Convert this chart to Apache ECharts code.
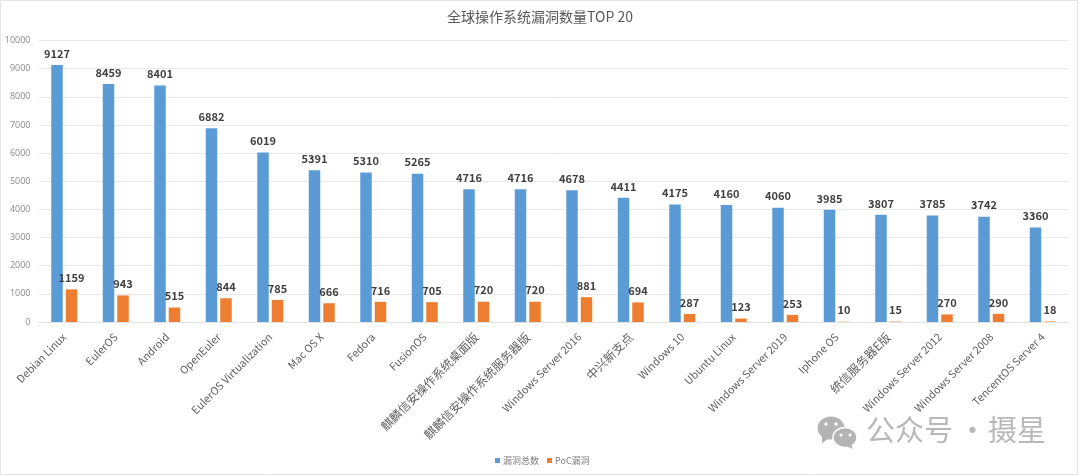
<!DOCTYPE html>
<html><head><meta charset="utf-8">
<style>html,body{margin:0;padding:0;background:#fff}#c{width:1080px;height:476px}</style>
<script src="https://cdn.jsdelivr.net/npm/echarts@6/dist/echarts.min.js"></script>
</head><body><div id="c"></div>
<script>
const categories = ["Debian Linux","EulerOS","Android","OpenEuler","EulerOS Virtualization","Mac OS X","Fedora","FusionOS","麒麟信安操作系统桌面版","麒麟信安操作系统服务器版","Windows Server 2016","中兴新支点","Windows 10","Ubuntu Linux","Windows Server 2019","Iphone OS","统信服务器E版","Windows Server 2012","Windows Server 2008","TencentOS Server 4"];
const totalVulns = [9127,8459,8401,6882,6019,5391,5310,5265,4716,4716,4678,4411,4175,4160,4060,3985,3807,3785,3742,3360];
const pocVulns = [1159,943,515,844,785,666,716,705,720,720,881,694,287,123,253,10,15,270,290,18];
const FONT = '"Noto Sans CJK SC","Open Sans",sans-serif';
const chart = echarts.init(document.getElementById('c'), null, {renderer:'canvas'});
const lbl = {show:true, position:'top', distance:6, fontFamily:FONT, fontSize:11, fontWeight:'bold', color:'#404040'};
chart.setOption({
  animation:false,
  backgroundColor:'#fff',
  title:{text:'全球操作系统漏洞数量TOP 20', left:'center', top:5, textStyle:{fontFamily:FONT, fontSize:14, fontWeight:'normal', color:'#595959'}},
  legend:{bottom:6, left:490, itemWidth:5, itemHeight:5, itemGap:8, icon:'rect', textStyle:{fontFamily:FONT, fontSize:9, color:'#7f7f7f', padding:[0,0,0,-2]}},
  grid:{left:38.5, right:11.5, top:40.5, bottom:154},
  xAxis:{type:'category', data:categories, axisTick:{show:false},
    axisLine:{lineStyle:{color:'#e2e2e2', width:1}},
    axisLabel:{rotate:45, interval:0, margin:13, fontFamily:FONT, fontSize:10.7, color:'#606060',
      formatter:function(v){ return /[\u4e00-\u9fff]/.test(v) ? '{cn|'+v+'}' : v; },
      rich:{cn:{fontFamily:FONT, fontSize:12, color:'#606060'}}}},
  yAxis:{type:'value', min:0, max:10000, interval:1000, axisLine:{show:false}, axisTick:{show:false},
    splitLine:{lineStyle:{color:'#e8e8e8', width:1}},
    axisLabel:{margin:8, fontFamily:'"Open Sans",sans-serif', fontSize:9, color:'#8a8a8a', formatter:function(v){return String(v);}}},
  series:[
    {name:'漏洞总数', type:'bar', data:totalVulns, barWidth:11.5, barGap:'26%', itemStyle:{color:'#5b9bd5'}, label:lbl},
    {name:'PoC漏洞', type:'bar', data:pocVulns, barWidth:11.5, itemStyle:{color:'#ed7d31'}, label:lbl}
  ],
  graphic:[
    {type:'rect', silent:true, z:-1, shape:{x:0.5,y:0.5,width:1077,height:474}, style:{fill:'none',stroke:'#e4e4e4',lineWidth:1}},
    {type:'group', silent:true, children:[
      {type:'ellipse', shape:{cx:831,cy:428,rx:13.5,ry:11.5}, style:{fill:'#b4b4b4'}},
      {type:'polygon', shape:{points:[[822,435],[822,443],[830,438]]}, style:{fill:'#b4b4b4'}},
      {type:'ellipse', shape:{cx:845,cy:437.5,rx:12,ry:10}, style:{fill:'#b4b4b4',stroke:'#fff',lineWidth:1.5}},
      {type:'polygon', shape:{points:[[851,444],[853,449],[846,446]]}, style:{fill:'#b4b4b4'}},
      {type:'circle', shape:{cx:826,cy:424,r:1.7}, style:{fill:'#fff'}},
      {type:'circle', shape:{cx:836,cy:424,r:1.7}, style:{fill:'#fff'}},
      {type:'circle', shape:{cx:841,cy:435,r:1.5}, style:{fill:'#fff'}},
      {type:'circle', shape:{cx:850,cy:435,r:1.5}, style:{fill:'#fff'}}
    ]},
    {type:'text', silent:true, left:866, top:415, style:{text:'公众号', font:'29px "Noto Sans CJK SC"', fill:'#b8b8b8'}},
    {type:'text', silent:true, left:958, top:415, style:{text:'·', font:'29px "Noto Sans CJK SC"', fill:'#b8b8b8'}},
    {type:'text', silent:true, left:988, top:415, style:{text:'摄星', font:'29px "Noto Sans CJK SC"', fill:'#b8b8b8'}}
  ]
});
</script></body></html>
